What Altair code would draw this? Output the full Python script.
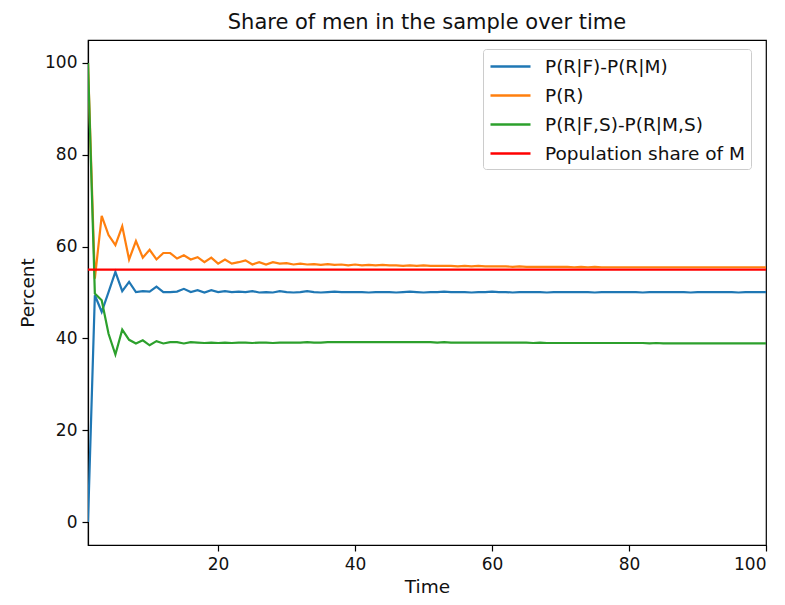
import altair as alt
import pandas as pd

# ---- data ----
times = list(range(1, 101))

p_diff = [
    0.0, 49.4, 45.8, 50.1, 54.5, 50.3, 52.3, 50.1, 50.3, 50.2,
    51.3, 50.1, 50.1, 50.2, 50.8, 50.1, 50.5, 50.0, 50.5, 50.1,
    50.3, 50.1, 50.2, 50.1, 50.3, 50.0, 50.1, 50.0, 50.3, 50.1,
    50.0, 50.1, 50.3, 50.1, 50.0, 50.1, 50.2, 50.1, 50.1, 50.1,
    50.1, 50.0, 50.1, 50.1, 50.1, 50.0, 50.1, 50.2, 50.1, 50.0,
    50.1, 50.1, 50.2, 50.1, 50.1, 50.1, 50.0, 50.1, 50.1, 50.2,
    50.1, 50.1, 50.0, 50.1, 50.1, 50.1, 50.1, 50.0, 50.1, 50.1,
    50.1, 50.1, 50.1, 50.1, 50.0, 50.1, 50.1, 50.1, 50.1, 50.1,
    50.1, 50.0, 50.1, 50.1, 50.1, 50.1, 50.1, 50.1, 50.0, 50.1,
    50.1, 50.1, 50.1, 50.1, 50.1, 50.0, 50.1, 50.1, 50.1, 50.1,
]

p_r = [
    100.0, 53.0, 66.7, 62.5, 60.3, 64.4, 57.2, 61.2, 57.6, 59.3,
    57.2, 58.6, 58.6, 57.4, 58.1, 57.2, 57.7, 56.6, 57.6, 56.3,
    57.2, 56.3, 56.6, 57.0, 56.1, 56.6, 56.1, 56.6, 56.3, 56.4,
    56.1, 56.3, 56.1, 56.2, 56.0, 56.2, 56.0, 56.1, 55.9, 56.1,
    55.9, 56.0, 55.9, 56.0, 55.9, 55.9, 55.8, 55.9, 55.8, 55.9,
    55.8, 55.8, 55.8, 55.8, 55.7, 55.8, 55.7, 55.8, 55.7, 55.7,
    55.7, 55.7, 55.6, 55.7, 55.6, 55.6, 55.6, 55.6, 55.6, 55.6,
    55.6, 55.5, 55.6, 55.5, 55.6, 55.5, 55.5, 55.5, 55.5, 55.5,
    55.5, 55.5, 55.5, 55.5, 55.5, 55.5, 55.5, 55.5, 55.5, 55.5,
    55.5, 55.5, 55.5, 55.5, 55.5, 55.5, 55.5, 55.5, 55.5, 55.5,
]

p_diff_s = [
    100.0, 49.8, 48.3, 41.0, 36.5, 41.9, 39.7, 38.9, 39.6, 38.5,
    39.4, 38.9, 39.2, 39.2, 38.9, 39.2, 39.1, 39.0, 39.1, 39.0,
    39.1, 39.0, 39.1, 39.1, 39.0, 39.1, 39.1, 39.0, 39.1, 39.1,
    39.1, 39.1, 39.2, 39.1, 39.1, 39.2, 39.2, 39.2, 39.2, 39.2,
    39.2, 39.2, 39.2, 39.2, 39.2, 39.2, 39.2, 39.2, 39.2, 39.2,
    39.2, 39.1, 39.2, 39.1, 39.1, 39.1, 39.1, 39.1, 39.1, 39.1,
    39.1, 39.1, 39.1, 39.1, 39.1, 39.0, 39.1, 39.0, 39.0, 39.0,
    39.0, 39.0, 39.0, 39.0, 39.0, 39.0, 39.0, 39.0, 39.0, 39.0,
    39.0, 39.0, 38.9, 39.0, 38.9, 38.9, 38.9, 38.9, 38.9, 38.9,
    38.9, 38.9, 38.9, 38.9, 38.9, 38.9, 38.9, 38.9, 38.9, 38.9,
]

pop_times = [1, 100]
pop_share = [55.0, 55.0]

series_names = ["P(R|F)-P(R|M)", "P(R)", "P(R|F,S)-P(R|M,S)", "Population share of M"]
series_colors = ["#1f77b4", "#ff7f0e", "#2ca02c", "#ff0000"]

# ---- build tables ----
frames = []
for name, vals in zip(series_names[:3], [p_diff, p_r, p_diff_s]):
    frames.append(pd.DataFrame({"Time": times, "Percent": vals, "Series": name}))
frames.append(pd.DataFrame({"Time": pop_times, "Percent": pop_share, "Series": series_names[3]}))

FONT = "DejaVu Sans"

x_enc = alt.X(
    "Time:Q",
    scale=alt.Scale(domain=[1, 100], nice=False, zero=False),
    axis=alt.Axis(values=[20, 40, 60, 80, 100], title="Time"),
)
y_enc = alt.Y(
    "Percent:Q",
    scale=alt.Scale(domain=[-5, 105], nice=False, zero=False),
    axis=alt.Axis(values=[0, 20, 40, 60, 80, 100], title="Percent"),
)
color_enc = alt.Color(
    "Series:N",
    scale=alt.Scale(domain=series_names, range=series_colors),
    legend=alt.Legend(
        title=None,
        orient="none",
        legendX=395,
        legendY=9,
        fillColor="white",
        strokeColor="#cccccc",
        cornerRadius=3,
        padding=6,
        symbolType="M-1,0H3",
        symbolSize=400,
        symbolStrokeWidth=2.3,
        labelFontSize=18.5,
        labelFont=FONT,
        labelColor="#111111",
        labelOffset=33,
        labelLimit=400,
        rowPadding=8,
    ),
)

layers = [
    alt.Chart(df).mark_line(strokeWidth=2.2, clip=True).encode(x=x_enc, y=y_enc, color=color_enc)
    for df in frames
]

chart = (
    alt.layer(*layers)
    .properties(
        width=678,
        height=505,
        title=alt.TitleParams(
            "Share of men in the sample over time",
            font=FONT,
            fontSize=21,
            fontWeight="normal",
            color="#111111",
            offset=7,
        ),
        autosize=alt.AutoSizeParams(type="none"),
        padding={"left": 80, "top": 32, "right": 10, "bottom": 52},
    )
    .configure_view(stroke="black", strokeWidth=1.2)
    .configure_axis(
        grid=False,
        domainColor="black",
        domainWidth=1.2,
        tickColor="black",
        tickSize=6,
        tickWidth=1.2,
        labelFont=FONT,
        labelFontSize=17,
        labelColor="#111111",
        labelPadding=5,
        titleFont=FONT,
        titleFontSize=18.5,
        titleFontWeight="normal",
        titleColor="#111111",
    )
    .configure_axisX(titlePadding=5)
    .configure_axisY(titlePadding=7)
)

chart.save("out.html", embed_options={"renderer": "svg", "actions": False})
